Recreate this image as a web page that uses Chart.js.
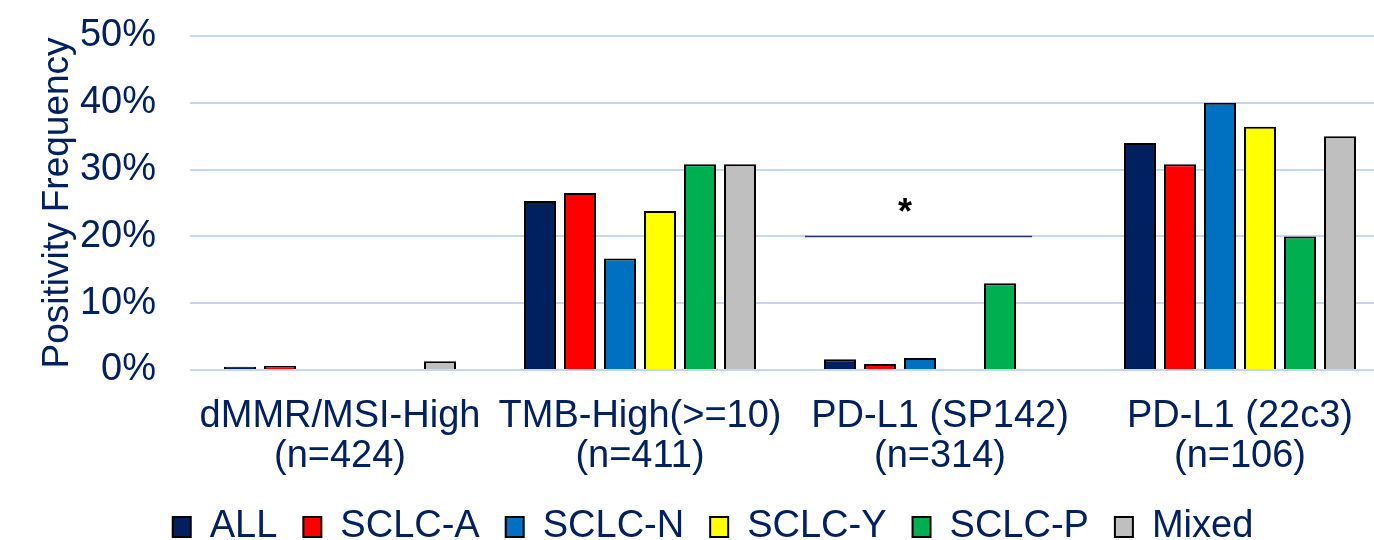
<!DOCTYPE html>
<html>
<head>
<meta charset="utf-8">
<script src="https://cdn.jsdelivr.net/npm/chart.js@4"></script>
<style>
  html, body { margin: 0; padding: 0; background: #fff; overflow: hidden; }
  #wrap { width: 1390px; height: 540px; }
</style>
</head>
<body>
<div id="wrap"><canvas id="grafico" width="1390" height="540"></canvas></div>
<script>
// categorias y series
const categorias = [
  ['dMMR/MSI-High', '(n=424)'],
  ['TMB-High(>=10)', '(n=411)'],
  ['PD-L1 (SP142)', '(n=314)'],
  ['PD-L1 (22c3)', '(n=106)']
];
const series = ['ALL', 'SCLC-A', 'SCLC-N', 'SCLC-Y', 'SCLC-P', 'Mixed'];
const valoresALL = [0.5, 25.3, 1.6, 34.0];
const valoresA = [0.6, 26.5, 0.9, 30.8];
const valoresN = [0, 16.7, 1.8, 40.0];
const valoresY = [0, 23.8, 0, 36.4];
const valoresP = [0, 30.8, 13.0, 20.0];
const valoresMixed = [1.3, 30.8, 0, 35.0];
const ticksY = [0, 10, 20, 30, 40, 50];
// marca de significancia sobre PD-L1 (SP142)
const significancia = { categoria: 2, nivel: 20, texto: '*' };

const colores = ['#002060', '#ff0000', '#0070c0', '#ffff00', '#00b050', '#bfbfbf'];
const valores = [valoresALL, valoresA, valoresN, valoresY, valoresP, valoresMixed];
const texto = '#002060';
const fuente = "'Liberation Sans', Arial, sans-serif";

const marcaSignificancia = {
  id: 'marcaSignificancia',
  afterDatasetsDraw(chart) {
    const x = chart.scales.x, y = chart.scales.y;
    const ancho = x.width / categorias.length;
    const cx = x.getPixelForValue(significancia.categoria);
    const py = Math.round(y.getPixelForValue(significancia.nivel)) + 0.5;
    const ctx = chart.ctx;
    ctx.save();
    ctx.strokeStyle = '#1f3864';
    ctx.lineWidth = 1.5;
    ctx.beginPath();
    ctx.moveTo(cx - ancho * 0.45, py);
    ctx.lineTo(cx + ancho * 0.307, py);
    ctx.stroke();
    ctx.fillStyle = '#000';
    ctx.font = 'bold 36px ' + fuente;
    ctx.textAlign = 'center';
    ctx.textBaseline = 'middle';
    ctx.fillText(significancia.texto, cx - ancho * 0.117, py - 22);
    ctx.restore();
  }
};

new Chart(document.getElementById('grafico'), {
  type: 'bar',
  data: {
    labels: categorias,
    datasets: series.map((nombre, i) => ({
      label: nombre,
      data: valores[i],
      backgroundColor: colores[i],
      borderColor: '#000',
      borderWidth: 2,
      borderSkipped: 'start',
      barPercentage: 0.8,
      categoryPercentage: 0.8
    }))
  },
  options: {
    responsive: false,
    animation: false,
    layout: { padding: { left: 36, top: 36, right: 0, bottom: -16 } },
    plugins: {
      tooltip: { enabled: false },
      legend: {
        position: 'bottom',
        labels: {
          boxWidth: 18,
          boxHeight: 20,
          padding: 26,
          color: texto,
          font: { family: fuente, size: 38 }
        }
      }
    },
    scales: {
      x: {
        grid: { display: false },
        border: { display: false },
        afterFit(scale) { scale.height = 112; },
        ticks: {
          color: texto,
          padding: 19,
          maxRotation: 0,
          autoSkip: false,
          font: { family: fuente, size: 38, lineHeight: 1.05 }
        }
      },
      y: {
        min: 0,
        max: 50,
        afterFit(scale) {
          scale.width = 154;
          // el padding de las etiquetas no debe empujar el area del grafico
          scale.paddingTop = 0;
          scale.paddingBottom = 0;
        },
        afterBuildTicks(scale) { scale.ticks = ticksY.map(v => ({ value: v })); },
        grid: { color: '#c3d7f3', lineWidth: 2, drawTicks: false },
        border: { display: false },
        ticks: {
          color: texto,
          padding: 34,
          font: { family: fuente, size: 38 },
          callback: v => v + '%'
        },
        title: {
          display: true,
          text: 'Positivity Frequency',
          color: texto,
          padding: 0,
          font: { family: fuente, size: 37 }
        }
      }
    }
  },
  plugins: [marcaSignificancia]
});
</script>
</body>
</html>
